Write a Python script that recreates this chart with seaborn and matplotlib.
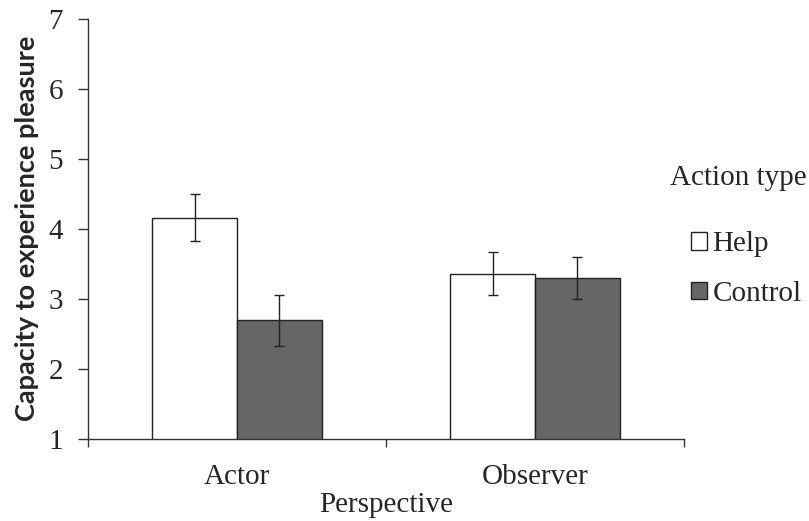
import pandas as pd
import matplotlib.pyplot as plt
import seaborn as sns
from matplotlib.patches import Patch

perspectives = ["Actor", "Observer"]
action_types = ["Help", "Control"]
help_means = [4.16, 3.36]
control_means = [2.69, 3.29]
help_err = [0.33, 0.31]
control_err = [0.37, 0.30]

df = pd.DataFrame({
    "Perspective": perspectives * 2,
    "Action type": ["Help"] * 2 + ["Control"] * 2,
    "Mean": help_means + control_means,
    "Err": help_err + control_err,
})

sns.set_style("white")
serif = ["Liberation Serif", "DejaVu Serif"]
plt.rcParams["font.family"] = serif

fig = plt.figure(figsize=(8.09, 5.21), dpi=100)
ax = fig.add_axes([88 / 809, 82.3 / 521, 596 / 809, 420 / 521])

colors = {"Help": "#ffffff", "Control": "#666666"}
sns.barplot(data=df, x="Perspective", y="Mean", hue="Action type",
            order=perspectives, hue_order=action_types, palette=colors,
            width=0.57, errorbar=None, edgecolor="#222222", linewidth=1,
            ax=ax, legend=False)

# error bars at the bar centres that seaborn laid out
bars = [p for p in ax.patches if p.get_height() > 0]
for bar in bars:
    cx = bar.get_x() + bar.get_width() / 2
    top = bar.get_y() + bar.get_height()
    row = df[(df["Mean"] - top).abs() < 1e-9].iloc[0]
    ax.errorbar(cx, row["Mean"], yerr=row["Err"], color="#222222",
                elinewidth=1, capsize=3.5, capthick=1)

ax.set_ylim(1, 7)
ax.set_xlim(-0.5, 1.5)
ax.set_yticks(range(1, 8))
ax.set_xticks([-0.5, 0.5, 1.5], minor=True)
ax.tick_params(axis="x", which="major", length=0, pad=18, labelsize=21)
ax.tick_params(axis="x", which="minor", length=6, width=1, color="#333333", bottom=True)
ax.tick_params(axis="y", length=7, width=1, color="#333333", left=True, labelsize=21, pad=11)

for s in ["top", "right"]:
    ax.spines[s].set_visible(False)
for s in ["left", "bottom"]:
    ax.spines[s].set_color("#333333")
    ax.spines[s].set_linewidth(1)

ax.set_xlabel("Perspective", fontsize=21, labelpad=2)
ax.set_ylabel("Capacity to experience pleasure", fontsize=19.5, fontweight="bold",
              family=["Lato", "DejaVu Sans"], labelpad=7)

handles = [Patch(facecolor=colors[a], edgecolor="#222222", linewidth=1) for a in action_types]
fig.text(670 / 809, 1 - 178 / 521, "Action type", fontsize=21, ha="left", va="center")
fig.legend(handles, action_types, loc="upper left",
           bbox_to_anchor=(671 / 809, 1 - 211 / 521), frameon=False,
           fontsize=21, handlelength=0.55, handleheight=0.55,
           handletextpad=0.17, labelspacing=0.8, borderpad=0.2)

fig.savefig("out.png", dpi=100)
